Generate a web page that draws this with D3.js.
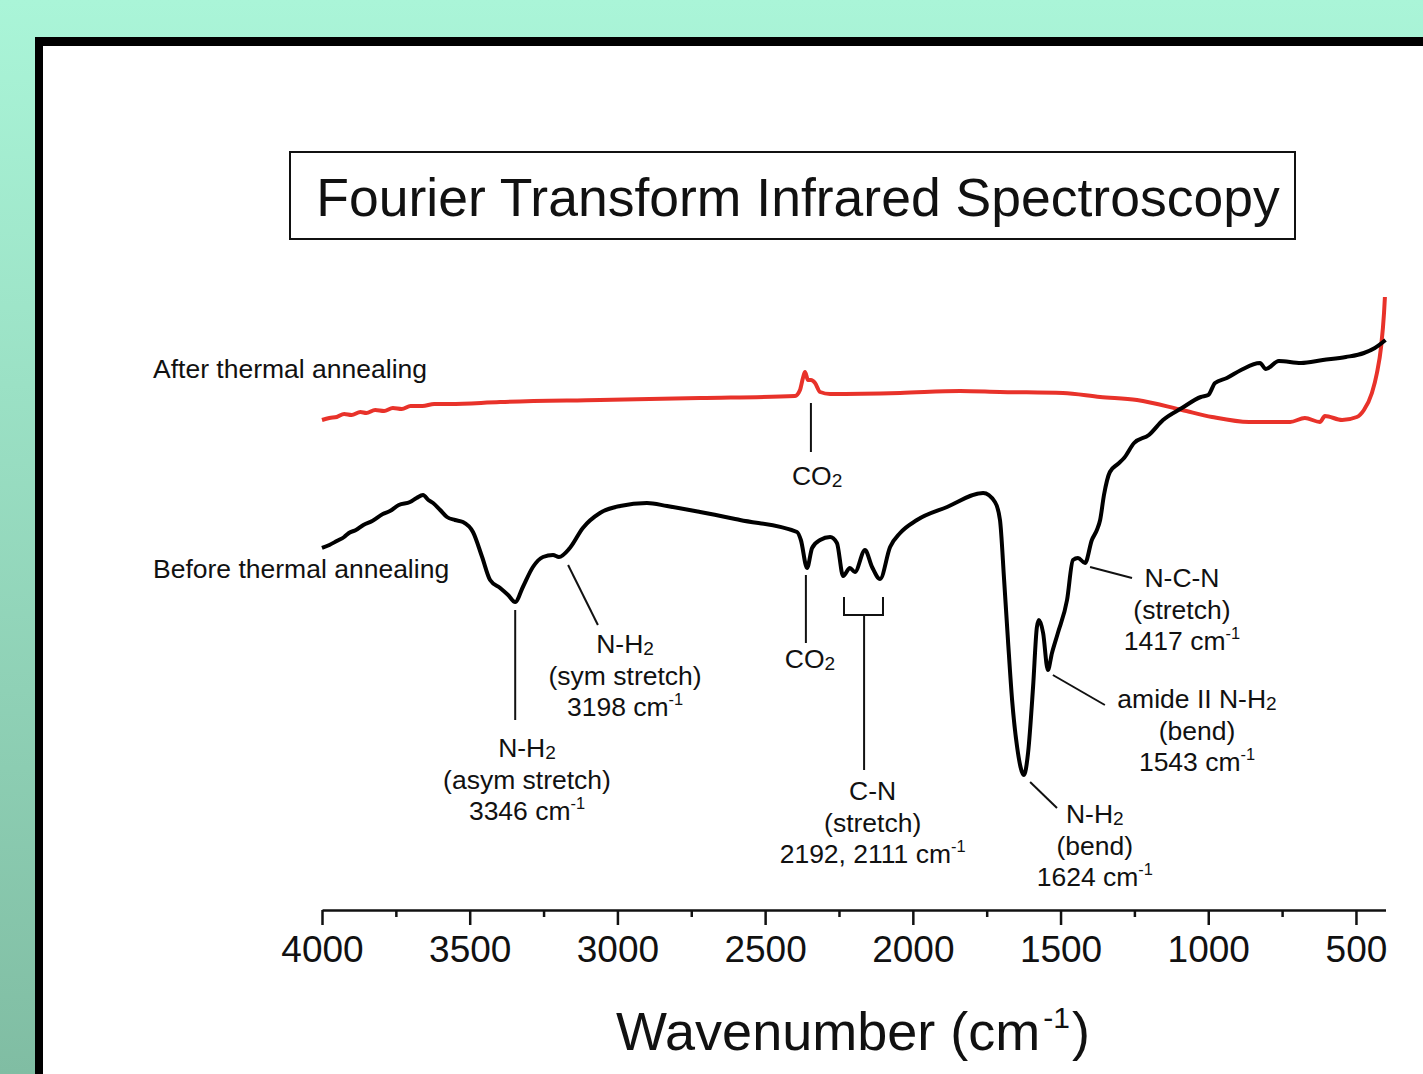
<!DOCTYPE html>
<html>
<head>
<meta charset="utf-8">
<script src="https://cdn.jsdelivr.net/npm/d3@7"></script>
<style>
  body { margin: 0; overflow: hidden; background: #fff; }
  text { font-family: "Liberation Sans", Arial, sans-serif; fill: #111; }
</style>
</head>
<body>
<script>
var width = 1423, height = 1074;

// spectrum before annealing (black) : wavenumber / transmittance (a.u.)
var beforeWn = [4000, 3975, 3950, 3925, 3909, 3885, 3860, 3830, 3794, 3770, 3740, 3702, 3680,
  3658, 3640, 3624, 3600, 3577, 3550, 3523, 3489, 3458, 3431, 3397, 3370, 3346, 3320, 3286,
  3252, 3218, 3198, 3161, 3117, 3059, 2991, 2900, 2832, 2720, 2585, 2392, 2379, 2358, 2341,
  2314, 2280, 2257, 2236, 2213, 2196, 2162, 2138, 2111, 2077, 2043, 1986, 1884, 1762, 1722,
  1705, 1691, 1678, 1664, 1647, 1624, 1610, 1593, 1580, 1573, 1559, 1543, 1529, 1509, 1478,
  1458, 1441, 1417, 1394, 1377, 1366, 1353, 1333, 1306, 1285, 1251, 1201, 1153, 1089, 1025,
  1000, 977, 937, 889, 825, 805, 761, 686, 612, 534, 473, 436, 400];
var beforeT = [25.2, 25.5, 25.9, 26.3, 26.7, 27.0, 27.5, 27.9, 28.6, 28.9, 29.5, 29.8, 30.2,
  30.5, 30.0, 29.7, 29.0, 28.3, 28.0, 27.8, 26.8, 24.3, 22.0, 21.2, 20.5, 19.8, 21.3, 23.3,
  24.3, 24.5, 24.3, 25.2, 27.2, 28.7, 29.4, 29.7, 29.4, 28.8, 28.0, 26.8, 26.0, 23.2, 25.2,
  26.0, 26.3, 25.7, 22.4, 23.2, 22.8, 25.0, 23.3, 22.1, 25.3, 26.7, 28.0, 29.3, 30.7, 29.8,
  28.0, 22.0, 16.0, 10.0, 5.3, 2.5, 4.7, 11.3, 17.3, 18.0, 16.7, 13.0, 14.7, 16.7, 20.0,
  24.0, 24.2, 23.7, 26.0, 27.0, 28.0, 30.5, 32.8, 33.6, 34.2, 35.7, 36.5, 38.0, 39.2, 40.3,
  40.5, 41.7, 42.2, 43.0, 43.7, 43.1, 43.9, 43.7, 44.0, 44.3, 44.7, 45.2, 46.0];

// spectrum after annealing (red)
var afterWn = [4000, 3975, 3950, 3925, 3900, 3870, 3850, 3820, 3790, 3760, 3730, 3700, 3660,
  3620, 3567, 3397, 3059, 2720, 2399, 2382, 2372, 2365, 2355, 2345, 2331, 2314, 2280, 2043,
  1840, 1705, 1492, 1366, 1241, 1089, 987, 862, 723, 673, 622, 605, 547, 497, 473, 446, 429,
  415, 405, 402];
var afterT = [38.0, 38.2, 38.3, 38.6, 38.5, 38.8, 38.7, 39.0, 38.9, 39.2, 39.1, 39.4, 39.4,
  39.6, 39.6, 39.8, 40.0, 40.2, 40.4, 41.0, 42.2, 42.8, 42.0, 42.0, 41.7, 40.8, 40.6, 40.7,
  40.9, 40.8, 40.7, 40.3, 40.0, 39.0, 38.3, 37.8, 37.8, 38.2, 37.8, 38.4, 38.0, 38.3, 39.0,
  40.7, 42.7, 45.3, 48.7, 50.3];

var majorTicks = [4000, 3500, 3000, 2500, 2000, 1500, 1000, 500];
var minorTicks = [3750, 3250, 2750, 2250, 1750, 1250, 750];

var seriesNames = ["After thermal annealing", "Before thermal annealing"];
var seriesLabelPos = [[4572, 42.2], [4572, 22.2]];

// peak annotations: {} = subscript, [] = superscript
var annotations = [
  { line: [[2345, 39.7], [2345, 34.8]], at: [2324, 31.5], text: ["CO{2}"] },
  { line: [[2362, 22.5], [2362, 15.7]], at: [2348, 13.2], text: ["CO{2}"] },
  { line: [[2165, 18.5], [2165, 3.0]], at: [2136, 0.0], text: ["C-N", "(stretch)", "2192, 2111 cm[-1]"] },
  { line: [[3346, 19.0], [3346, 8.0]], at: [3306, 4.3], text: ["N-H{2}", "(asym stretch)", "3346 cm[-1]"] },
  { line: [[3167, 23.5], [3066, 17.5]], at: [2974, 14.7], text: ["N-H{2}", "(sym stretch)", "3198 cm[-1]"] },
  { line: [[1603, 1.8], [1512, -0.8]], at: [1384, -2.3], text: ["N-H{2}", "(bend)", "1624 cm[-1]"] },
  { line: [[1526, 12.5], [1350, 9.5]], at: [1038, 9.2], text: ["amide II N-H{2}", "(bend)", "1543 cm[-1]"] },
  { line: [[1400, 23.3], [1258, 22.2]], at: [1089, 21.3], text: ["N-C-N", "(stretch)", "1417 cm[-1]"] }
];
var bracket = [[2233, 20.3], [2233, 18.5], [2101, 18.5], [2101, 20.3]];

var svg = d3.select("body").append("svg")
  .attr("width", width)
  .attr("height", height);

var defs = svg.append("defs");
var grad = defs.append("linearGradient").attr("id", "bg")
  .attr("x1", 0).attr("y1", 0).attr("x2", 0).attr("y2", 1);
grad.append("stop").attr("offset", "0%").attr("stop-color", "#aaf5d8");
grad.append("stop").attr("offset", "100%").attr("stop-color", "#80bda3");

// slide background + frame
svg.append("rect").attr("width", width).attr("height", height).attr("fill", "url(#bg)");
svg.append("rect").attr("x", 35).attr("y", 37).attr("width", width - 35).attr("height", height - 37).attr("fill", "#000");
svg.append("rect").attr("x", 43).attr("y", 46).attr("width", width - 43).attr("height", height - 46).attr("fill", "#fff");

var x = d3.scaleLinear().domain([4000, 400]).range([322, 1385.5]);
var y = d3.scaleLinear().domain([0, 50]).range([800, 300]);
var axisY = 910;

// title
svg.append("rect")
  .attr("x", 290).attr("y", 152).attr("width", 1005).attr("height", 87)
  .attr("fill", "#fff").attr("stroke", "#111").attr("stroke-width", 2);
svg.append("text")
  .attr("x", 798).attr("y", 216)
  .attr("text-anchor", "middle")
  .style("font-size", "53.5px")
  .text("Fourier Transform Infrared Spectroscopy");

// axis
var gx = svg.append("g").attr("transform", "translate(0," + axisY + ")");
gx.call(d3.axisBottom(x).tickValues(majorTicks).tickSize(15).tickSizeOuter(0).tickPadding(11)
  .tickFormat(d3.format("d")));
gx.select(".domain").attr("stroke", "#111").attr("stroke-width", 2.5);
gx.selectAll(".tick line").attr("stroke", "#111").attr("stroke-width", 2.5);
gx.selectAll(".tick text").style("font-size", "37px").style("font-family", "Liberation Sans, Arial, sans-serif").attr("fill", "#111");

var gm = svg.append("g").attr("transform", "translate(0," + axisY + ")");
gm.call(d3.axisBottom(x).tickValues(minorTicks).tickSize(7).tickFormat(""));
gm.select(".domain").remove();
gm.selectAll(".tick line").attr("stroke", "#111").attr("stroke-width", 2.5);

var xt = svg.append("text")
  .attr("x", 853).attr("y", 1050)
  .attr("text-anchor", "middle")
  .style("font-size", "54px");
xt.append("tspan").text("Wavenumber (cm");
xt.append("tspan").attr("dx", 3).attr("dy", -22).style("font-size", "30px").text("-1");
xt.append("tspan").attr("dx", 2).attr("dy", 22).text(")");

// spectra
var line = d3.line().x(d => x(d[0])).y(d => y(d[1])).curve(d3.curveMonotoneX);
var before = beforeWn.map((w, i) => [w, beforeT[i]]);
var after = afterWn.map((w, i) => [w, afterT[i]]);

svg.append("path").datum(after)
  .attr("d", line).attr("fill", "none")
  .attr("stroke", "#e8322a").attr("stroke-width", 4).attr("stroke-linejoin", "round");
svg.append("path").datum(before)
  .attr("d", line).attr("fill", "none")
  .attr("stroke", "#000").attr("stroke-width", 4).attr("stroke-linejoin", "round");

// series labels
seriesNames.forEach(function (name, i) {
  svg.append("text")
    .attr("x", x(seriesLabelPos[i][0])).attr("y", y(seriesLabelPos[i][1]))
    .style("font-size", "26.5px")
    .text(name);
});

// rich text with sub/superscripts
function richLine(sel, str, size) {
  var parts = str.split(/(\{[^}]*\}|\[[^\]]*\])/).filter(s => s.length);
  var shift = 0;
  parts.forEach(function (p) {
    var t = sel.append("tspan");
    if (p[0] == "{") {
      t.style("font-size", (size * 0.72) + "px").attr("dy", 2 - shift).text(p.slice(1, -1));
      shift = 2;
    } else if (p[0] == "[") {
      t.style("font-size", (size * 0.62) + "px").attr("dy", -size * 0.4 - shift).text(p.slice(1, -1));
      shift = -size * 0.4;
    } else {
      t.attr("dy", -shift).text(p);
      shift = 0;
    }
  });
}

var annoSize = 26.5, lineGap = 31.5;
annotations.forEach(function (a) {
  svg.append("line")
    .attr("x1", x(a.line[0][0])).attr("y1", y(a.line[0][1]))
    .attr("x2", x(a.line[1][0])).attr("y2", y(a.line[1][1]))
    .attr("stroke", "#111").attr("stroke-width", 2);
  a.text.forEach(function (s, k) {
    var t = svg.append("text")
      .attr("x", x(a.at[0])).attr("y", y(a.at[1]) + k * lineGap)
      .attr("text-anchor", "middle")
      .style("font-size", annoSize + "px");
    richLine(t, s, annoSize);
  });
});

svg.append("path")
  .attr("d", d3.line().x(d => x(d[0])).y(d => y(d[1]))(bracket))
  .attr("fill", "none").attr("stroke", "#111").attr("stroke-width", 2);
</script>
</body>
</html>
